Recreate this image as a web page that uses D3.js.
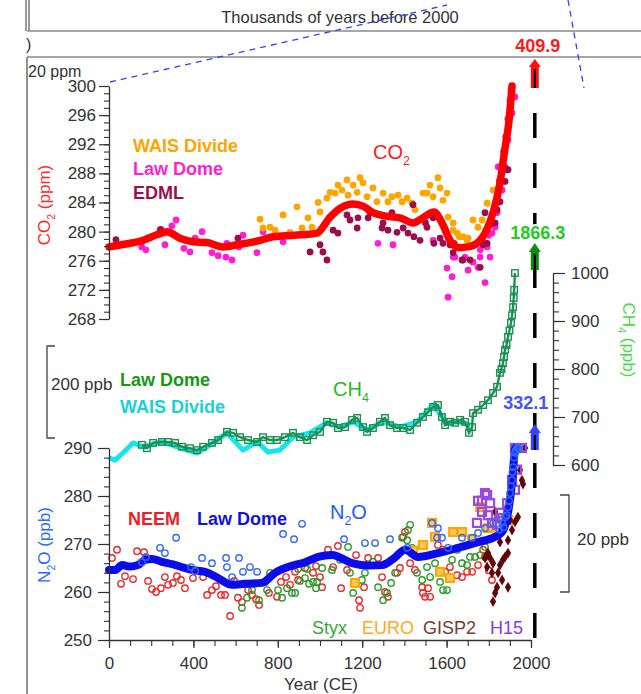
<!DOCTYPE html>
<html>
<head>
<meta charset="utf-8">
<script src="https://cdn.jsdelivr.net/npm/d3@7"></script>
<style>
  body { margin: 0; background: #fff; }
  svg { display: block; font-family: "Liberation Sans", Arial, sans-serif; }
</style>
</head>
<body>
<div id="chart"></div>
<script>
// ---- data (year CE, value) ----

// CO2 (ppm)
var co2Spline = [[0,277.9],[80,278.3],[150,278.7],[230,279.6],[275,280.0],[336,279.1],[400,278.6],[464,278.5],[540,277.9],[607,278.2],[716,278.8],[777,279.3],[880,279.5],[986,279.8],[1048,282.0],[1095,283.2],[1157,283.8],[1204,283.5],[1251,282.6],[1318,282.1],[1379,281.9],[1441,281.2],[1488,281.9],[1540,282.7],[1578,281.2],[1616,278.8],[1660,277.8],[1700,277.9],[1744,278.4],[1792,280.4],[1820,282.6],[1853,286.7],[1877,291.5],[1895,295.0],[1910,300.0]];

var co2LawDome = [[155,277.9],[175,277.5],[242,280.2],[265,278.2],[298,280.8],[318,281.6],[355,277.7],[384,277.2],[408,279.1],[441,280.0],[488,277.1],[517,276.7],[554,276.5],[583,276.1],[559,278.4],[616,277.9],[635,279.5],[701,277.1],[730,280.0],[825,278.6],[1275,278.4],[1346,278.2],[1536,278.8],[1602,275.0],[1607,271.0],[1626,273.8],[1631,276.5],[1640,276.5],[1687,276.5],[1702,274.7],[1725,275.8],[1749,275.1],[1759,276.5],[1782,273.0],[1792,277.9],[1806,276.5],[1815,279.8],[1830,280.6],[1760,277.5],[1780,278.5],[1800,279.5],[1810,281.0],[1820,282.5],[1830,283.5],[1839,282.6],[1840,285.0],[1844,288.9],[1850,287.0],[1860,289.0],[1863,285.7],[1870,291.0],[1877,288.9],[1880,293.0],[1890,295.5],[1891,292.6],[1900,298.0],[1905,299.5],[1910,296.3],[1924,298.5]];

var co2Wais = [[716,281.7],[730,280.5],[763,280.6],[787,280.2],[825,282.3],[858,279.9],[891,283.4],[915,280.5],[943,281.9],[962,280.6],[991,284.0],[1000,282.7],[1033,284.6],[1048,285.4],[1071,285.3],[1085,286.4],[1104,285.7],[1128,287.1],[1133,285.0],[1157,286.4],[1176,285.4],[1190,287.4],[1204,286.7],[1223,284.8],[1251,286.0],[1270,284.1],[1299,285.3],[1322,284.1],[1341,284.8],[1370,285.0],[1389,284.1],[1413,284.6],[1436,283.9],[1450,283.0],[1488,285.3],[1507,285.3],[1521,286.4],[1536,284.8],[1559,287.4],[1569,286.0],[1583,284.3],[1602,285.3],[1607,282.0],[1631,281.2],[1631,280.2],[1650,279.8],[1660,279.3],[1678,279.3],[1697,278.8],[1702,279.1],[1725,281.6],[1749,280.6],[1768,281.6],[1792,283.9],[1820,285.7],[1830,285.7]];

var co2Edml = [[33,278.9],[245,280.3],[611,279.1],[953,277.2],[1000,278.2],[1014,277.2],[1033,276.1],[1062,280.2],[1085,279.8],[1128,282.3],[1142,281.6],[1176,280.5],[1180,281.9],[1228,281.9],[1237,282.6],[1294,280.5],[1299,281.2],[1322,280.2],[1341,282.6],[1365,279.9],[1394,280.5],[1417,279.8],[1441,283.7],[1445,279.3],[1474,278.8],[1500,281.2],[1507,280.6],[1536,281.9],[1540,278.4],[1569,279.1],[1583,278.4],[1616,278.2],[1631,277.1],[1635,278.4],[1673,276.1],[1678,276.1],[1711,276.1],[1759,275.1],[1773,278.2],[1782,282.6],[1792,278.4],[1820,281.2],[1830,281.2],[1839,283.0],[1853,284.1],[1877,286.9],[1887,288.5],[1891,288.5]];

// CH4 (ppb)
var ch4LawDome = [[156,642],[180,635],[209,646],[251,648],[280,648],[313,646],[346,638],[384,635],[417,631],[446,638],[488,646],[517,652],[559,669],[588,667],[621,658],[659,652],[702,648],[730,658],[763,652],[796,652],[834,658],[872,667],[905,658],[939,652],[967,662],[1000,669],[1033,690],[1062,688],[1085,677],[1119,679],[1152,694],[1176,698],[1204,679],[1223,669],[1251,677],[1284,690],[1308,698],[1332,683],[1365,677],[1394,677],[1427,673],[1460,688],[1488,700],[1512,710],[1536,721],[1559,725],[1578,700],[1593,683],[1616,690],[1640,688],[1664,694],[1687,690],[1706,667],[1721,679],[1725,708],[1749,715],[1773,725],[1796,735],[1820,750],[1839,763],[1853,792],[1860,800],[1867,812],[1872,825],[1877,840],[1884,850],[1891,867],[1898,880],[1905,896],[1910,912],[1915,929],[1918,948],[1920,965],[1924,1000]];

var ch4Wais = [[0,615],[28,610],[66,625],[114,646],[161,638],[251,648],[322,638],[417,625],[488,644],[559,667],[635,631],[702,648],[754,627],[810,631],[872,658],[953,667],[1033,688],[1095,679],[1157,690],[1223,673],[1299,690],[1379,679],[1460,690],[1536,725],[1602,688],[1664,690],[1711,683]];

// N2O (ppb)
var n2oLine = [[0,264.6],[30,264.6],[62,265.6],[100,265.3],[137,265.6],[171,266.7],[204,266.9],[250,266.3],[299,265.8],[393,264.6],[455,264.2],[517,262.9],[583,261.5],[645,261.7],[725,261.9],[787,264.0],[848,265.2],[929,266.2],[991,267.3],[1057,267.7],[1152,266.0],[1230,265.5],[1294,265.6],[1350,267.0],[1403,268.8],[1465,267.3],[1559,268.1],[1654,269.2],[1749,270.4],[1830,271.5],[1863,272.5],[1887,275.6],[1910,282.7],[1924,289.6],[1926,290.0]];

var n2oLawDome = [[156,266.2],[175,267.3],[242,269.2],[265,268.1],[318,271.3],[389,265.2],[408,264.4],[441,267.1],[488,266.0],[555,267.1],[559,265.2],[583,263.1],[616,267.1],[635,264.2],[668,265.2],[702,264.2],[825,272.1],[877,271.0],[915,274.2],[1114,271.0],[1213,270.2],[1261,270.2],[1332,271.0],[1413,269.2],[1531,274.4],[1559,273.3],[1555,271.3],[1578,271.3],[1607,269.2],[1673,271.3],[1721,271.3],[1749,272.3],[1782,273.3],[1820,274.4],[1850,273.0],[1863,274.4],[1870,273.5],[1877,275.6],[1885,276.0],[1891,277.7],[1896,279.0],[1901,280.6],[1905,282.0],[1910,283.3],[1912,285.0],[1915,286.0],[1920,288.0],[1924,289.0],[1928,289.5],[1934,290.0],[1940,289.8],[1945,290.0]];

var n2oNeem = [[14,267.1],[38,268.8],[57,261.7],[76,263.3],[114,262.7],[133,268.5],[166,268.3],[185,262.3],[204,260.6],[223,260.0],[246,260.8],[265,263.1],[280,261.5],[303,261.9],[322,263.3],[341,262.5],[360,260.8],[398,262.9],[446,263.1],[465,259.4],[488,260.4],[507,261.2],[531,259.4],[550,259.4],[574,255.0],[593,262.3],[611,258.8],[630,257.9],[659,260.4],[678,259.4],[697,258.5],[711,257.3],[740,262.1],[758,259.8],[796,259.0],[815,262.1],[839,263.1],[858,261.5],[882,264.2],[896,262.5],[929,265.0],[967,264.0],[981,265.4],[1000,263.1],[1010,261.0],[1038,268.8],[1062,265.2],[1085,269.6],[1100,260.8],[1128,264.6],[1171,267.7],[1185,258.3],[1190,256.7],[1209,261.0],[1228,267.1],[1275,267.1],[1294,263.1],[1308,260.0],[1322,259.0],[1365,264.0],[1379,265.0],[1394,271.5],[1403,272.5],[1427,266.0],[1450,264.6],[1484,261.0],[1488,259.8],[1498,259.0],[1512,260.8],[1522,259.0],[1559,269.8],[1583,268.8],[1593,264.2],[1616,265.2],[1650,263.5],[1673,263.1],[1697,264.2],[1721,264.2],[1749,265.6],[1773,268.8],[1782,267.3],[1800,264.5],[1815,262.5]];

var n2oStyx = [[630,256.7],[654,258.8],[678,260.4],[711,258.3],[749,260.4],[763,264.0],[801,260.4],[820,258.8],[844,260.8],[867,259.8],[882,259.8],[896,264.8],[905,262.3],[929,262.9],[939,264.8],[948,261.7],[967,262.1],[981,260.8],[986,262.1],[1010,265.0],[1057,264.6],[1095,266.7],[1133,269.4],[1142,264.0],[1157,259.8],[1199,262.5],[1213,264.0],[1228,265.6],[1251,266.3],[1275,261.0],[1299,258.3],[1318,259.8],[1337,261.9],[1356,264.0],[1389,271.3],[1413,270.8],[1417,272.9],[1427,274.0],[1436,269.2],[1460,264.0],[1484,262.5],[1507,265.2],[1522,263.1],[1545,266.0],[1569,262.1],[1583,260.4],[1602,260.4],[1626,266.7],[1650,268.8],[1673,266.0],[1697,265.6],[1711,267.3],[1735,267.3],[1759,267.7],[1782,269.4]];

var n2oEuro = [[1166,261.9],[1441,268.6],[1488,269.8],[1531,274.4],[1545,271.5],[1569,264.2],[1616,262.9],[1631,272.5],[1673,272.5],[1721,271.0],[1759,277.7],[1796,273.3],[1815,273.5],[1891,275.0]];

var n2oGisp2 = [[1782,267.1],[1792,265.2],[1796,268.1],[1806,267.1],[1815,264.0],[1820,266.0],[1820,258.0],[1830,259.8],[1830,276.7],[1839,275.4],[1839,261.0],[1844,264.0],[1853,265.6],[1853,270.4],[1863,262.5],[1867,266.7],[1877,267.3],[1891,261.0],[1891,268.1],[1891,270.8],[1900,275.0],[1910,272.9],[1924,274.6],[1938,275.6],[1948,285.4],[1957,283.3],[1962,282.5],[1972,290.0]];

var n2oH15 = [[1744,274.4],[1749,279.0],[1768,279.0],[1768,276.7],[1782,280.6],[1792,280.2],[1796,276.0],[1806,278.5],[1815,274.4],[1839,274.0],[1853,276.5],[1863,275.4],[1887,278.5],[1910,283.3],[1924,281.3],[1924,290.0],[1934,285.5],[1957,290.0]];

// present-day values shown as arrows
var nowYear = 2018;
var nowValues = ["409.9", "1866.3", "332.1"];

// axis ticks
var yearTicks = [0, 400, 800, 1200, 1600, 2000];
var co2Ticks = [268, 272, 276, 280, 284, 288, 292, 296, 300];
var ch4Ticks = [600, 700, 800, 900, 1000];
var n2oTicks = [250, 260, 270, 280, 290];

// ---- layout ----
var W = 641, H = 694;
var FONT = "Liberation Sans, Arial, sans-serif";

var svg = d3.select("#chart").append("svg")
  .attr("width", W).attr("height", H);

var x = d3.scaleLinear().domain([0, 2000]).range([109, 531]);
var yCO2 = d3.scaleLinear().domain([268, 300]).range([319, 86]);
var yCH4 = d3.scaleLinear().domain([600, 1000]).range([465, 273]);
var yN2O = d3.scaleLinear().domain([250, 290]).range([640, 448]);

// ---- frame bits from the panel above ----
svg.append("line").attr("x1", 26).attr("x2", 26).attr("y1", 0).attr("y2", 31).attr("stroke", "#555").attr("stroke-width", 1.2);
svg.append("line").attr("x1", 29).attr("x2", 29).attr("y1", 0).attr("y2", 31).attr("stroke", "#555").attr("stroke-width", 1.2);
svg.append("line").attr("x1", 27).attr("x2", 27).attr("y1", 57).attr("y2", H).attr("stroke", "#555").attr("stroke-width", 1.3);
[31, 57].forEach(function(yy) {
  svg.append("line").attr("x1", 27).attr("x2", W).attr("y1", yy).attr("y2", yy)
    .attr("stroke", "#888").attr("stroke-width", 1.6);
});
svg.append("text").attr("x", 340).attr("y", 23).attr("text-anchor", "middle")
  .style("font-size", "16.5px").attr("fill", "#333").text("Thousands of years before 2000");
svg.append("text").attr("x", 26).attr("y", 50).style("font-size", "16px").attr("fill", "#333").text(")");
svg.append("text").attr("x", 28).attr("y", 77).style("font-size", "16px").attr("fill", "#333").text("20 ppm");

// blue zoom lines
svg.append("line").attr("x1", 110).attr("y1", 82).attr("x2", 447).attr("y2", 5)
  .attr("stroke", "#3344ee").attr("stroke-width", 1.3).attr("stroke-dasharray", "6,5");
svg.append("line").attr("x1", 568).attr("y1", 0).attr("x2", 584).attr("y2", 88)
  .attr("stroke", "#3344ee").attr("stroke-width", 1.3).attr("stroke-dasharray", "6,5");

// ---- marker helpers ----
function dots(data, yScale, color, r) {
  svg.append("g").selectAll("circle").data(data).enter().append("circle")
    .attr("cx", function(d) { return x(d[0]); })
    .attr("cy", function(d) { return yScale(d[1]); })
    .attr("r", r).attr("fill", color);
}
function rings(data, yScale, color) {
  svg.append("g").selectAll("circle").data(data).enter().append("circle")
    .attr("cx", function(d) { return x(d[0]); })
    .attr("cy", function(d) { return yScale(d[1]); })
    .attr("r", 3.2).attr("fill", "none").attr("stroke", color).attr("stroke-width", 1.4);
}
function squares(data, yScale, size, stroke, fill, sw) {
  svg.append("g").selectAll("rect").data(data).enter().append("rect")
    .attr("x", function(d) { return x(d[0]) - size / 2; })
    .attr("y", function(d) { return yScale(d[1]) - size / 2; })
    .attr("width", size).attr("height", size)
    .attr("fill", fill).attr("stroke", stroke).attr("stroke-width", sw);
}

// ---- CO2 ----
dots(co2LawDome, yCO2, "#ff1fd2", 3.4);
dots(co2Wais, yCO2, "#ffa500", 3.4);
dots(co2Edml, yCO2, "#9a0f4c", 3.4);

var co2Line = d3.line().x(function(d) { return x(d[0]); }).y(function(d) { return yCO2(d[1]); })
  .curve(d3.curveMonotoneX);
svg.append("path").datum(co2Spline).attr("d", co2Line)
  .attr("fill", "none").attr("stroke", "#ff0000").attr("stroke-width", 7.5)
  .attr("stroke-linejoin", "round").attr("stroke-linecap", "round");

// ---- CH4 ----
var ch4Path = d3.line().x(function(d) { return x(d[0]); }).y(function(d) { return yCH4(d[1]); });
svg.append("path").datum(ch4Wais).attr("d", ch4Path)
  .attr("fill", "none").attr("stroke", "#19e3ec").attr("stroke-width", 5).attr("stroke-linejoin", "round");
svg.append("path").datum(ch4LawDome).attr("d", ch4Path)
  .attr("fill", "none").attr("stroke", "#1a9152").attr("stroke-width", 2.4);
squares(ch4LawDome, yCH4, 6.5, "#1a9152", "none", 1.4);

// ---- N2O ----
rings(n2oNeem, yN2O, "#ee2727");
rings(n2oStyx, yN2O, "#2a9a2a");
squares(n2oEuro, yN2O, 8, "#ffa500", "#ffc85a", 2);
svg.append("g").selectAll("path").data(n2oGisp2).enter().append("path")
  .attr("d", d3.symbol().type(d3.symbolDiamond).size(34))
  .attr("transform", function(d) { return "translate(" + x(d[0]) + "," + yN2O(d[1]) + ")"; })
  .attr("fill", "#5e0808");
squares(n2oH15, yN2O, 8, "#9a48e0", "none", 2.2);

var n2oPath = d3.line().x(function(d) { return x(d[0]); }).y(function(d) { return yN2O(d[1]); })
  .curve(d3.curveMonotoneX);
svg.append("path").datum(n2oLine).attr("d", n2oPath)
  .attr("fill", "none").attr("stroke", "#0c0ce8").attr("stroke-width", 8)
  .attr("stroke-linejoin", "round").attr("stroke-linecap", "round");
rings(n2oLawDome, yN2O, "#2f66ff");

// ---- axes ----
function styleAxis(g) {
  g.attr("font-family", FONT).attr("font-size", 17);
  g.select(".domain").attr("stroke", "#333").attr("stroke-width", 1.3);
  g.selectAll(".tick line").attr("stroke", "#333").attr("stroke-width", 1.2);
  g.selectAll(".tick text").attr("fill", "#333");
}
function minor(g) {
  g.select(".domain").remove();
  g.selectAll(".tick line").attr("stroke", "#333").attr("stroke-width", 1.1);
}
var plain = d3.format("d");

svg.append("g").attr("transform", "translate(109,0)")
  .call(d3.axisLeft(yCO2).tickValues(d3.range(268, 301, 1)).tickSize(5).tickFormat("")).call(minor);
svg.append("g").attr("transform", "translate(109,0)")
  .call(d3.axisLeft(yCO2).tickValues(co2Ticks).tickSize(10).tickSizeOuter(0).tickPadding(3).tickFormat(plain)).call(styleAxis);

svg.append("g").attr("transform", "translate(553,0)")
  .call(d3.axisRight(yCH4).tickValues(d3.range(600, 1001, 20)).tickSize(6).tickFormat("")).call(minor);
svg.append("g").attr("transform", "translate(553,0)")
  .call(d3.axisRight(yCH4).tickValues(ch4Ticks).tickSize(12).tickSizeOuter(0).tickPadding(6).tickFormat(plain)).call(styleAxis);

svg.append("g").attr("transform", "translate(109,0)")
  .call(d3.axisLeft(yN2O).tickValues(d3.range(250, 291, 2)).tickSize(5).tickFormat("")).call(minor);
svg.append("g").attr("transform", "translate(109,0)")
  .call(d3.axisLeft(yN2O).tickValues(n2oTicks).tickSize(11).tickSizeOuter(0).tickPadding(6).tickFormat(plain)).call(styleAxis);

svg.append("g").attr("transform", "translate(0,640)")
  .call(d3.axisBottom(x).tickValues(d3.range(0, 2001, 100)).tickSize(6).tickFormat("")).call(minor);
svg.append("g").attr("transform", "translate(0,640)")
  .call(d3.axisBottom(x).tickValues(yearTicks).tickSize(8).tickSizeOuter(0).tickPadding(9).tickFormat(plain)).call(styleAxis);

// ---- labels ----
function subLabel(xx, yy, parts, color, size, weight, rot) {
  var t = svg.append("text").attr("transform", "translate(" + xx + "," + yy + ")" + (rot ? " rotate(" + rot + ")" : ""))
    .attr("text-anchor", rot ? "middle" : "start")
    .style("font-size", size + "px").style("font-weight", weight || "normal").attr("fill", color);
  var shift = 0;
  parts.forEach(function(p) {
    var s = t.append("tspan").text(p[0]);
    var target = p[1] ? size * 0.3 : 0;
    s.attr("dy", target - shift);
    shift = target;
    if (p[1]) s.style("font-size", (size * 0.62) + "px");
  });
  return t;
}

subLabel(50, 205, [["CO"], ["2", true], [" (ppm)"]], "#ff2a2a", 17, "normal", -90);
subLabel(50, 545, [["N"], ["2", true], ["O (ppb)"]], "#2a6aff", 17, "normal", -90);
subLabel(623, 340, [["CH"], ["4", true], [" (ppb)"]], "#49d949", 17, "normal", 90);

subLabel(373, 159, [["CO"], ["2", true]], "#ff1a1a", 20, "normal");
subLabel(333, 396, [["CH"], ["4", true]], "#22bb22", 20, "normal");
subLabel(330, 519, [["N"], ["2", true], ["O"]], "#1a5cff", 20, "normal");

function label(xx, yy, txt, color, weight, size, anchor) {
  return svg.append("text").attr("x", xx).attr("y", yy).attr("fill", color)
    .attr("text-anchor", anchor || "start")
    .style("font-size", (size || 18) + "px").style("font-weight", weight || "normal").text(txt);
}
label(133, 152, "WAIS Divide", "#ffa500", "bold");
label(133, 175, "Law Dome", "#ff1fd2", "bold");
label(133, 199, "EDML", "#9a0f4c", "bold");

label(120, 386, "Law Dome", "#139a13", "bold");
label(120, 413, "WAIS Divide", "#1bd0d8", "bold");

label(128, 525, "NEEM", "#e8202a", "bold");
label(197, 525, "Law Dome", "#1010e0", "bold");

label(312, 634, "Styx", "#33aa33");
label(362, 634, "EURO", "#ffaa22");
label(423, 634, "GISP2", "#7a3a2a");
label(490, 634, "H15", "#8a3adf");

label(321, 690, "Year (CE)", "#333", "normal", 17, "middle");

// scale bars
svg.append("path").attr("d", "M55,346 H47 V438 H55").attr("fill", "none").attr("stroke", "#444").attr("stroke-width", 1.3);
label(51, 390, "200 ppb", "#333", "normal", 17);
svg.append("path").attr("d", "M560,495 H569 V592 H560").attr("fill", "none").attr("stroke", "#444").attr("stroke-width", 1.3);
label(577, 545, "20 ppb", "#333", "normal", 17);

// ---- present-day arrows ----
var xNow = x(nowYear);
svg.append("line").attr("x1", xNow).attr("x2", xNow).attr("y1", 63).attr("y2", 640)
  .attr("stroke", "#000").attr("stroke-width", 3.5).attr("stroke-dasharray", "25,25");

var arrows = [
  {tip: 59, base: 67, end: 88, color: "#ff1010", labelY: 52, labelColor: "#ff1a1a", dx: 3},
  {tip: 243, base: 252, end: 270, color: "#108a10", labelY: 239, labelColor: "#22cc22", dx: 3},
  {tip: 424, base: 433, end: 450, color: "#3344ff", labelY: 409, labelColor: "#4455ff", dx: -9}
];
arrows.forEach(function(a, i) {
  svg.append("rect").attr("x", xNow - 4).attr("y", a.base).attr("width", 8).attr("height", a.end - a.base).attr("fill", a.color);
  svg.append("path").attr("d", "M" + (xNow - 6) + "," + a.base + " L" + xNow + "," + a.tip + " L" + (xNow + 6) + "," + a.base + " Z").attr("fill", a.color);
  svg.append("line").attr("x1", xNow).attr("x2", xNow).attr("y1", a.base + 2).attr("y2", a.end).attr("stroke", "#000").attr("stroke-width", 2);
  label(xNow + a.dx, a.labelY, nowValues[i], a.labelColor, "bold", 18, "middle")
    .attr("stroke", "#fff").attr("stroke-width", 4).attr("paint-order", "stroke");
});
</script>
</body>
</html>
